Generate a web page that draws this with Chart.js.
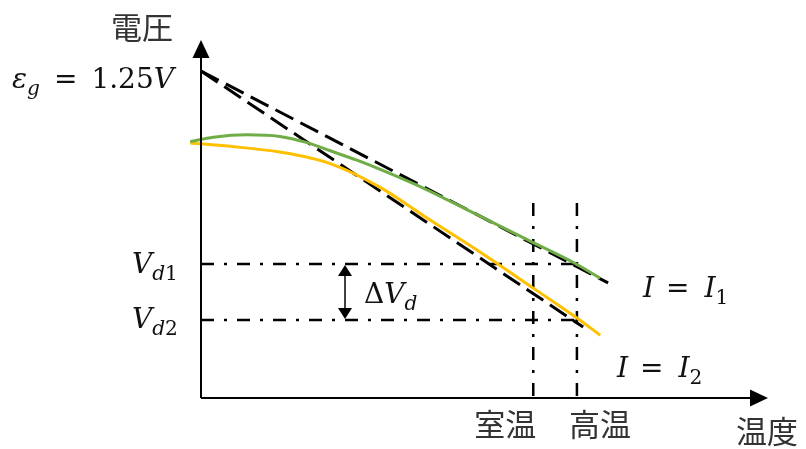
<!DOCTYPE html>
<html>
<head>
<meta charset="utf-8">
<script src="https://cdn.jsdelivr.net/npm/chart.js@4"></script>
<style>
  html, body { margin: 0; padding: 0; background: #fff; }
  canvas { display: block; }
</style>
</head>
<body>
<canvas id="vt-chart" width="806" height="449"></canvas>
<script>
// temperature (arbitrary units, origin = 0) and forward voltage [V]
const i1Temp = [-1.9, 2.2, 8.1, 13.9, 18.6, 22.8, 27.5, 31.6, 37.4, 43.3, 49.2, 58.6, 66.0, 70.4];
const i1Volt = [0.980, 0.997, 1.006, 1.000, 0.977, 0.945, 0.909, 0.874, 0.820, 0.759, 0.695, 0.594, 0.514, 0.458];
const i2Temp = [-1.9, 5.1, 13.9, 22.8, 31.6, 40.4, 49.2, 58.6, 66.3, 70.4];
const i2Volt = [0.975, 0.962, 0.940, 0.896, 0.805, 0.680, 0.558, 0.420, 0.306, 0.240];

// linear extrapolations back to the band gap at zero temperature
const bandGap = 1.25;
const fit1Temp = [0, 71.8];
const fit1Volt = [bandGap, 0.440];
const fit2Temp = [0, 67.4];
const fit2Volt = [bandGap, 0.271];

// reference levels
const roomTemp = 58.6;
const highTemp = 66.3;
const guideTop = 0.745;
const vd1 = 0.512;
const vd2 = 0.298;
const deltaTemp = 25.4;

const GREEN = "#70ad47";
const GOLD = "#ffc000";
const DASH_DOT = [13, 10, 3, 10];

function pts(xs, ys) {
  return xs.map(function (x, i) { return { x: x, y: ys[i] }; });
}

function lineSet(data, color, width, dash, order, smooth) {
  return {
    data: data,
    borderColor: color,
    borderWidth: width,
    borderDash: dash || [],
    showLine: true,
    pointRadius: 0,
    cubicInterpolationMode: smooth ? "monotone" : "default",
    tension: smooth ? 0.4 : 0,
    clip: false,
    order: order,
  };
}

const serif = "'DejaVu Serif', 'Liberation Serif', serif";
const cjk = "'Noto Sans CJK JP', 'Noto Sans', sans-serif";

// parts: [text, style, gapAfter]; style i = italic, r = roman, si/sr = subscript
function drawMath(ctx, x, y, parts, size) {
  let cx = x;
  parts.forEach(function (p) {
    const sub = p[1].charAt(0) === "s";
    const italic = p[1].indexOf("i") >= 0;
    const fs = sub ? size * 0.72 : size;
    ctx.font = (italic ? "italic " : "") + fs + "px " + serif;
    ctx.fillText(p[0], cx, sub ? y + size * 0.25 : y);
    cx += ctx.measureText(p[0]).width + (p[2] || 0);
  });
}

function arrowHead(ctx, tipX, tipY, dx, dy, len, half) {
  // dx, dy: unit direction the arrow points
  const bx = tipX - dx * len, by = tipY - dy * len;
  ctx.beginPath();
  ctx.moveTo(tipX, tipY);
  ctx.lineTo(bx - dy * half, by + dx * half);
  ctx.lineTo(bx + dy * half, by - dx * half);
  ctx.closePath();
  ctx.fill();
}

const annotations = {
  id: "annotations",
  afterDraw: function (chart) {
    const ctx = chart.ctx;
    const xs = chart.scales.x, ys = chart.scales.y;
    const ox = xs.getPixelForValue(0), oy = ys.getPixelForValue(0);
    ctx.save();
    ctx.fillStyle = "#000";
    ctx.strokeStyle = "#000";

    // axes with arrow heads
    ctx.lineWidth = 2;
    ctx.beginPath();
    ctx.moveTo(ox, oy);
    ctx.lineTo(ox, 50);
    ctx.moveTo(ox, oy);
    ctx.lineTo(chart.chartArea.right - 10, oy);
    ctx.stroke();
    arrowHead(ctx, ox, 40, 0, -1, 18, 8.5);
    arrowHead(ctx, chart.chartArea.right, oy, 1, 0, 18, 8.5);

    // ΔVd double arrow
    const ax = xs.getPixelForValue(deltaTemp);
    const a1 = ys.getPixelForValue(vd1), a2 = ys.getPixelForValue(vd2);
    ctx.lineWidth = 1.5;
    ctx.beginPath();
    ctx.moveTo(ax, a1 + 8);
    ctx.lineTo(ax, a2 - 8);
    ctx.stroke();
    arrowHead(ctx, ax, a1 + 1, 0, -1, 11, 7);
    arrowHead(ctx, ax, a2 - 1, 0, 1, 11, 7);

    // math labels
    ctx.fillStyle = "#111";
    ctx.textBaseline = "alphabetic";
    ctx.textAlign = "left";
    const egY = ys.getPixelForValue(bandGap);
    const fs = 28;
    drawMath(ctx, 12, egY + 17, [["ε", "i"], ["g", "si", 14], ["=", "r", 14], ["1.25", "r"], ["V", "i"]], fs);
    drawMath(ctx, 132, a1 + 9, [["V", "i"], ["d", "si"], ["1", "sr"]], fs);
    drawMath(ctx, 132, a2 + 8, [["V", "i"], ["d", "si"], ["2", "sr"]], fs);
    drawMath(ctx, 364, 303, [["Δ", "r"], ["V", "i"], ["d", "si"]], fs);
    drawMath(ctx, 643, 297, [["I", "i", 12], ["=", "r", 15], ["I", "i"], ["1", "sr"]], fs);
    drawMath(ctx, 617, 377, [["I", "i", 12], ["=", "r", 15], ["I", "i"], ["2", "sr"]], fs);

    // axis titles and temperature marks
    ctx.font = "31px " + cjk;
    ctx.fillStyle = "#333";
    ctx.textAlign = "center";
    ctx.textBaseline = "middle";
    ctx.fillText("電圧", 142, 27);
    ctx.fillText("室温", xs.getPixelForValue(roomTemp) - 28, oy + 26);
    ctx.fillText("高温", xs.getPixelForValue(highTemp) + 23, oy + 26);
    ctx.fillText("温度", 767, oy + 33);
    ctx.restore();
  },
};

new Chart(document.getElementById("vt-chart"), {
  type: "scatter",
  data: {
    datasets: [
      lineSet(pts(i1Temp, i1Volt), GREEN, 3, null, 1, true),
      lineSet(pts(i2Temp, i2Volt), GOLD, 3, null, 1, true),
      lineSet(pts(fit1Temp, fit1Volt), "#000", 3, [20, 8], 2),
      lineSet(pts(fit2Temp, fit2Volt), "#000", 3, [20, 8], 2),
      lineSet(pts([0, highTemp], [vd1, vd1]), "#000", 2.5, DASH_DOT, 3),
      lineSet(pts([0, highTemp], [vd2, vd2]), "#000", 2.5, DASH_DOT, 3),
      lineSet(pts([roomTemp, roomTemp], [guideTop, 0]), "#000", 2.5, DASH_DOT, 3),
      lineSet(pts([highTemp, highTemp], [guideTop, 0]), "#000", 2.5, DASH_DOT, 3),
    ],
  },
  options: {
    responsive: false,
    animation: false,
    devicePixelRatio: 1,
    layout: { padding: { left: 201, right: 38, top: 71, bottom: 51 } },
    scales: {
      x: { type: "linear", min: 0, max: 100, display: false },
      y: { type: "linear", min: 0, max: 1.25, display: false },
    },
    plugins: {
      legend: { display: false },
      tooltip: { enabled: false },
    },
  },
  plugins: [annotations],
});
</script>
</body>
</html>
